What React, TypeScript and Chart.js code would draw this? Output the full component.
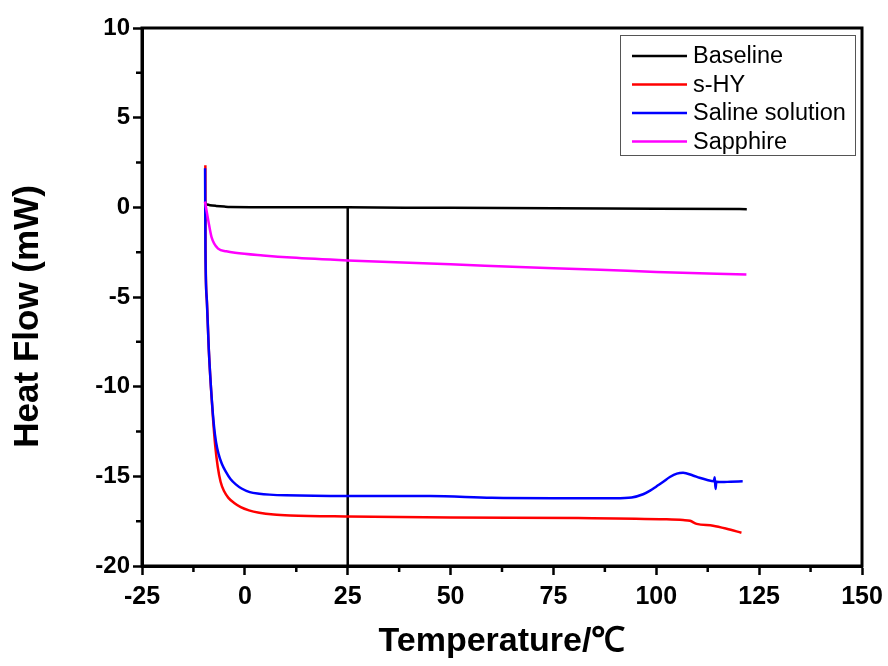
import React, { useEffect, useRef } from 'react';
import { Chart, registerables } from 'chart.js';

Chart.register(...registerables);

// ---- data (temperature in ℃, heat flow in mW) ----
const baselineT = [-9.7, -8.5, -7.0, -5.0, -3.6, 5, 25, 50, 75, 100, 122];
const baselineHF = [0.17, 0.12, 0.08, 0.04, 0.02, 0.01, 0.0, -0.03, -0.05, -0.08, -0.1];

const shyT = [-9.6, -9.55, -9.24, -8.75, -8.2, -7.7, -7.2, -6.6, -5.9, -5.0, -4.0, -2.5, -1.0, 1.0, 3.5, 7, 11, 25, 50, 81, 102.5, 106.5, 108.2, 109.8, 113.8, 117.1, 120.7];
const shyHF = [2.35, -2.4, -5.19, -8.0, -10.2, -11.9, -13.3, -14.45, -15.3, -15.85, -16.2, -16.5, -16.72, -16.9, -17.03, -17.13, -17.18, -17.24, -17.3, -17.33, -17.4, -17.44, -17.48, -17.65, -17.75, -17.92, -18.15];

const salineT = [-9.67, -9.58, -9.24, -8.75, -8.02, -7.5, -7.0, -6.4, -5.6, -4.6, -3.5, -2.2, -0.8, 1.2, 3.5, 6, 10, 25, 45, 60, 75, 90, 94, 96.8, 98.5, 100.1, 101.7, 103.3, 105, 106.5, 108.9, 110.5, 112.2, 114.0, 114.2, 114.4, 114.6, 116, 118, 121];
const salineHF = [2.18, -2.4, -5.19, -7.98, -10.77, -12.2, -13.1, -13.75, -14.3, -14.75, -15.15, -15.45, -15.68, -15.88, -15.97, -16.02, -16.06, -16.1, -16.1, -16.2, -16.22, -16.22, -16.18, -16.0, -15.8, -15.55, -15.3, -15.04, -14.85, -14.8, -14.95, -15.08, -15.19, -15.27, -15.05, -15.7, -15.3, -15.32, -15.3, -15.28];

const sapphireT = [-9.7, -8.9, -8.1, -6.5, -4.5, -2.4, 4.4, 11.3, 25, 50, 75, 86.3, 100, 121.9];
const sapphireHF = [0.33, -0.72, -1.66, -2.3, -2.45, -2.53, -2.68, -2.8, -2.96, -3.18, -3.4, -3.48, -3.6, -3.75];

const markerT = [25, 25];
const markerHF = [0, -20];

const seriesLabels = ['Baseline', 's-HY', 'Saline solution', 'Sapphire'];
const seriesColors = ['#000000', '#ff0000', '#0000ff', '#ff00ff'];

const xTicks = [-25, 0, 25, 50, 75, 100, 125, 150];
const yTicks = [-20, -15, -10, -5, 0, 5, 10];

const FONT = "'Liberation Sans', Arial, Helvetica, sans-serif";

const toPoints = (t: number[], h: number[]) => t.map((x, i) => ({ x, y: h[i] }));

const framePlugin = {
  id: 'frameAndMinor',
  afterDraw(chart: any) {
    const { ctx, chartArea: a, scales } = chart;
    const xs = scales.x;
    const ys = scales.y;
    ctx.save();
    ctx.strokeStyle = '#000';
    ctx.lineWidth = 3;
    ctx.strokeRect(a.left, a.top, a.right - a.left, a.bottom - a.top);
    ctx.lineWidth = 2.5;
    ctx.beginPath();
    for (let i = 0; i < xTicks.length - 1; i++) {
      const px = xs.getPixelForValue((xTicks[i] + xTicks[i + 1]) / 2);
      ctx.moveTo(px, a.bottom);
      ctx.lineTo(px, a.bottom + 6);
    }
    for (let i = 0; i < yTicks.length - 1; i++) {
      const py = ys.getPixelForValue((yTicks[i] + yTicks[i + 1]) / 2);
      ctx.moveTo(a.left, py);
      ctx.lineTo(a.left - 6, py);
    }
    ctx.stroke();
    ctx.restore();
  },
};

const legendPlugin = {
  id: 'insetLegend',
  afterDraw(chart: any) {
    const { ctx, chartArea: a } = chart;
    const boxRight = a.right - 7;
    const boxTop = a.top + 7;
    const boxW = 235;
    const boxH = 120;
    const boxLeft = boxRight - boxW;
    ctx.save();
    ctx.fillStyle = '#fff';
    ctx.fillRect(boxLeft, boxTop, boxW, boxH);
    ctx.strokeStyle = '#555';
    ctx.lineWidth = 1;
    ctx.strokeRect(boxLeft + 0.5, boxTop + 0.5, boxW, boxH);
    ctx.font = `23.5px ${FONT}`;
    ctx.textBaseline = 'middle';
    ctx.textAlign = 'left';
    seriesLabels.forEach((label, i) => {
      const y = boxTop + 21 + i * 28.5;
      ctx.strokeStyle = seriesColors[i];
      ctx.lineWidth = 2.5;
      ctx.beginPath();
      ctx.moveTo(boxLeft + 12, y);
      ctx.lineTo(boxLeft + 67, y);
      ctx.stroke();
      ctx.fillStyle = '#000';
      ctx.fillText(label, boxLeft + 73, y + 1);
    });
    ctx.restore();
  },
};

export default function App() {
  const canvasRef = useRef<HTMLCanvasElement | null>(null);

  useEffect(() => {
    const canvas = canvasRef.current;
    if (!canvas) return;
    const common = {
      pointRadius: 0,
      borderWidth: 2.5,
      fill: false,
      cubicInterpolationMode: 'monotone' as const,
    };
    const chart = new Chart(canvas, {
      type: 'line',
      data: {
        datasets: [
          { ...common, label: seriesLabels[3], data: toPoints(sapphireT, sapphireHF), borderColor: seriesColors[3], order: 0 },
          { ...common, label: seriesLabels[2], data: toPoints(salineT, salineHF), borderColor: seriesColors[2], order: 1 },
          { ...common, label: seriesLabels[1], data: toPoints(shyT, shyHF), borderColor: seriesColors[1], order: 2 },
          { ...common, label: seriesLabels[0], data: toPoints(baselineT, baselineHF), borderColor: seriesColors[0], order: 3 },
          { ...common, label: 'marker', data: toPoints(markerT, markerHF), borderColor: '#000000', order: 4, cubicInterpolationMode: 'default' as const },
        ],
      },
      options: {
        responsive: false,
        animation: false,
        layout: { padding: { top: 28, right: 26, left: 0, bottom: 0 } },
        plugins: { legend: { display: false }, tooltip: { enabled: false } },
        scales: {
          x: {
            type: 'linear',
            min: -25,
            max: 150,
            afterBuildTicks: (s: any) => { s.ticks = xTicks.map((v) => ({ value: v })); },
            afterFit: (s: any) => { s.height = 100; s.paddingLeft = 0; s.paddingRight = 0; },
            ticks: { color: '#000', font: { family: FONT, size: 25, weight: 'bold' }, padding: 7, maxRotation: 0 },
            grid: { drawOnChartArea: false, drawTicks: true, tickLength: 9, tickWidth: 2.5, tickColor: '#000' },
            border: { display: true, width: 3, color: '#000' },
            title: { display: true, text: 'Temperature/℃', color: '#000', font: { family: FONT, size: 34, weight: 'bold' }, padding: { top: 0, bottom: 4 } },
          },
          y: {
            type: 'linear',
            min: -20,
            max: 10,
            afterBuildTicks: (s: any) => { s.ticks = yTicks.map((v) => ({ value: v })); },
            afterFit: (s: any) => { s.width = 142; s.paddingTop = 0; s.paddingBottom = 0; },
            ticks: { color: '#000', font: { family: FONT, size: 24, weight: 'bold' }, padding: 3 },
            grid: { drawOnChartArea: false, drawTicks: true, tickLength: 9, tickWidth: 2.5, tickColor: '#000' },
            border: { display: true, width: 3, color: '#000' },
            title: { display: true, text: 'Heat Flow (mW)    ', color: '#000', font: { family: FONT, size: 35, weight: 'bold' }, padding: { top: 7, bottom: 0 } },
          },
        },
      },
      plugins: [framePlugin, legendPlugin],
    } as any);
    return () => chart.destroy();
  }, []);

  return (
    <div style={{ position: 'fixed', left: 0, top: 0, width: 888, height: 666, background: '#fff' }}>
      <canvas ref={canvasRef} width={888} height={666} style={{ display: 'block' }} />
    </div>
  );
}
